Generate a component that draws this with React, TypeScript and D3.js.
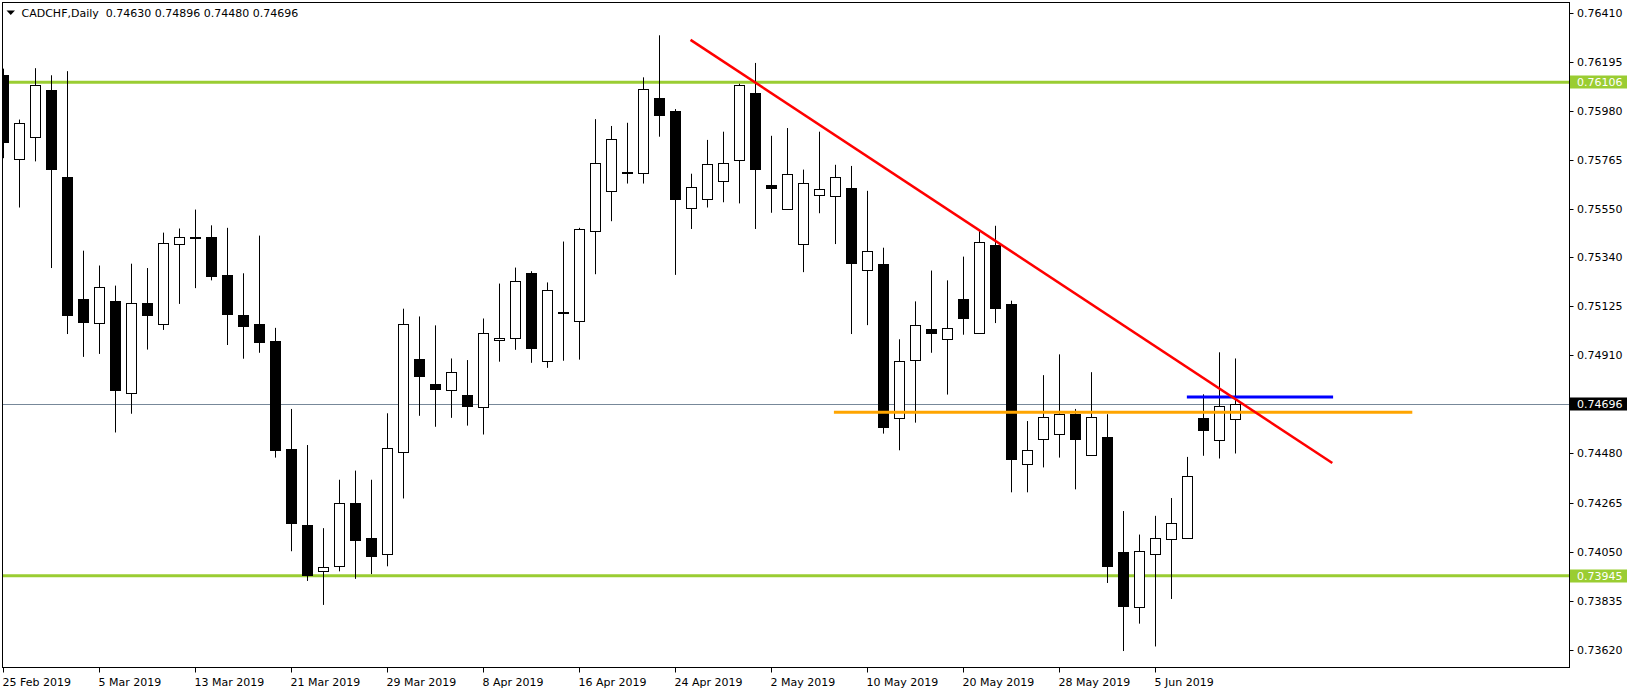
import React from "react";
import * as d3 from "d3";

// ---- data ----
const opens = [
  0.76136, 0.75769, 0.75864, 0.76072, 0.75689, 0.75156, 0.75053, 0.75149, 0.74747, 0.75137,
  0.75048, 0.75397, 0.75429, 0.75429, 0.75262, 0.75087, 0.75048, 0.74971, 0.74501, 0.74168,
  0.73966, 0.73988, 0.74262, 0.74111, 0.74039, 0.74487, 0.74893, 0.74784, 0.74756, 0.74736,
  0.74683, 0.74975, 0.74987, 0.75269, 0.74884, 0.75101, 0.75058, 0.75454, 0.75630, 0.75711,
  0.75707, 0.76038, 0.75980, 0.75554, 0.75596, 0.75671, 0.75767, 0.76058, 0.75657, 0.75550,
  0.75397, 0.75611, 0.75607, 0.75643, 0.75285, 0.75311, 0.74634, 0.74891, 0.75023, 0.74980,
  0.75158, 0.75009, 0.75395, 0.75133, 0.74433, 0.74545, 0.74567, 0.74652, 0.74472, 0.74553,
  0.74048, 0.73806, 0.74038, 0.74107, 0.74111, 0.74634, 0.74538, 0.74630,
];
const highs = [
  0.76165, 0.75942, 0.76167, 0.76136, 0.76154, 0.75368, 0.75303, 0.75215, 0.75311, 0.75292,
  0.75447, 0.75465, 0.75548, 0.75479, 0.75468, 0.75269, 0.75434, 0.75030, 0.74675, 0.74517,
  0.74153, 0.74365, 0.74405, 0.74365, 0.74656, 0.75114, 0.75080, 0.75041, 0.74896, 0.74889,
  0.75071, 0.75224, 0.75294, 0.75278, 0.75229, 0.75408, 0.75468, 0.75944, 0.75914, 0.75928,
  0.76127, 0.76311, 0.75988, 0.75705, 0.75853, 0.75889, 0.76099, 0.76190, 0.75871, 0.75905,
  0.75723, 0.75889, 0.75744, 0.75739, 0.75630, 0.75381, 0.74980, 0.75146, 0.75281, 0.75238,
  0.75342, 0.75456, 0.75477, 0.75149, 0.74622, 0.74823, 0.74914, 0.74675, 0.74836, 0.74652,
  0.74228, 0.74125, 0.74207, 0.74285, 0.74465, 0.74739, 0.74923, 0.74896,
];
const lows = [
  0.75773, 0.75557, 0.75759, 0.75292, 0.75003, 0.74903, 0.74916, 0.74572, 0.74654, 0.74935,
  0.75021, 0.75135, 0.75204, 0.75238, 0.74955, 0.74895, 0.74921, 0.74462, 0.74052, 0.73922,
  0.73817, 0.73964, 0.73931, 0.73952, 0.73986, 0.74283, 0.74645, 0.74597, 0.74636, 0.74602,
  0.74563, 0.74882, 0.74934, 0.74877, 0.74855, 0.74886, 0.74891, 0.75265, 0.75497, 0.75662,
  0.75662, 0.75867, 0.75262, 0.75463, 0.75557, 0.75580, 0.75575, 0.75463, 0.75534, 0.75547,
  0.75274, 0.75532, 0.75397, 0.75003, 0.75042, 0.74567, 0.74494, 0.74615, 0.74921, 0.74738,
  0.75000, 0.75007, 0.75051, 0.74310, 0.74310, 0.74419, 0.74462, 0.74323, 0.74470, 0.73913,
  0.73615, 0.73735, 0.73635, 0.73843, 0.74108, 0.74470, 0.74458, 0.74480,
];
const closes = [
  0.75842, 0.75926, 0.76092, 0.75727, 0.75087, 0.75057, 0.75210, 0.74759, 0.75140, 0.75087,
  0.75402, 0.75427, 0.75425, 0.75256, 0.75090, 0.75039, 0.74969, 0.74497, 0.74175, 0.73950,
  0.73984, 0.74262, 0.74100, 0.74030, 0.74506, 0.75048, 0.74820, 0.74764, 0.74836, 0.74690,
  0.75009, 0.74984, 0.75237, 0.74943, 0.75197, 0.75097, 0.75463, 0.75751, 0.75855, 0.75707,
  0.76076, 0.75960, 0.75593, 0.75646, 0.75746, 0.75751, 0.76092, 0.75725, 0.75641, 0.75703,
  0.75664, 0.75637, 0.75689, 0.75313, 0.75367, 0.74597, 0.74887, 0.75044, 0.75009, 0.75030,
  0.75073, 0.75406, 0.75117, 0.74458, 0.74494, 0.74638, 0.74652, 0.74545, 0.74638, 0.73988,
  0.73813, 0.74054, 0.74109, 0.74175, 0.74381, 0.74581, 0.74686, 0.74696,
];

const dateLabels = [
  "25 Feb 2019", "5 Mar 2019", "13 Mar 2019", "21 Mar 2019", "29 Mar 2019", "8 Apr 2019",
  "16 Apr 2019", "24 Apr 2019", "2 May 2019", "10 May 2019", "20 May 2019", "28 May 2019", "5 Jun 2019",
];
const dateLabelIndex = [0, 6, 12, 18, 24, 30, 36, 42, 48, 54, 60, 66, 72];

const priceTicks = [
  0.7641, 0.76195, 0.7598, 0.75765, 0.7555, 0.7534, 0.75125, 0.7491, 0.7448, 0.74265, 0.7405,
  0.73835, 0.7362,
];

const greenLevels = [0.76106, 0.73945];
const orangeLevel = { from: 51.9, to: 88.05, price: 0.74661 };
const blueLevel = { from: 73.96, to: 83.1, price: 0.74727 };
const redTrend = { i1: 42.94, p1: 0.76291, i2: 83.05, p2: 0.74438 };

const symbol = "CADCHF,Daily";

// ---- layout ----
const W = 1633;
const H = 694;
const left = 2.5;
const top = 2.5;
const right = 1569.5;
const bottom = 667.5;

export default function App() {
  const n = opens.length;
  const x = d3.scaleLinear().domain([0, n - 1]).range([3.5, 3.5 + 16 * (n - 1)]);
  const y = d3.scaleLinear().domain([0.7362, 0.7641]).range([649.9, 12.7]);
  const fmt = d3.format(".5f");
  const last = n - 1;
  const bid = closes[last];
  const font = "'DejaVu Sans', Verdana, sans-serif";
  const bw = 5;

  const title = `${symbol}  ${fmt(opens[last])} ${fmt(highs[last])} ${fmt(lows[last])} ${fmt(closes[last])}`;

  const labelBox = (p: number, fill: string, key: string) => (
    <g key={key}>
      <rect x={1570} y={Math.round(y(p)) - 6.5} width={57} height={13} fill={fill} />
      <text x={1577} y={y(p)} dy="0.36em" fontSize={11} fill="#ffffff" fontFamily={font}>
        {fmt(p)}
      </text>
    </g>
  );

  return (
    <svg
      width={W}
      height={H}
      style={{ position: "absolute", left: 0, top: 0, background: "#fff" }}
      xmlns="http://www.w3.org/2000/svg"
    >
      <defs>
        <clipPath id="plot">
          <rect x={left} y={top} width={right - left} height={bottom - top} />
        </clipPath>
      </defs>
      <rect x={0} y={0} width={W} height={H} fill="#ffffff" />

      <g clipPath="url(#plot)">
        {/* bid line */}
        <line x1={left} x2={right} y1={Math.round(y(bid)) + 0.5} y2={Math.round(y(bid)) + 0.5} stroke="#778899" strokeWidth={1} />
        {/* green levels */}
        {greenLevels.map((p, k) => (
          <line key={"g" + k} x1={left} x2={right} y1={y(p)} y2={y(p)} stroke="#9acd32" strokeWidth={3} />
        ))}

        {/* candles */}
        {opens.map((o, i) => {
          const c = closes[i];
          const cx = x(i);
          const bear = o > c;
          const yt = Math.round(y(Math.max(o, c))) + 0.5;
          let yb = Math.round(y(Math.min(o, c))) + 0.5;
          if (yb - yt < 1) yb = yt + 1;
          return (
            <g key={i}>
              <line x1={cx} x2={cx} y1={y(highs[i])} y2={y(lows[i])} stroke="#000" strokeWidth={1} />
              <rect
                x={cx - bw}
                y={yt}
                width={bw * 2}
                height={yb - yt}
                fill={bear ? "#000" : "#fff"}
                stroke="#000"
                strokeWidth={1}
              />
            </g>
          );
        })}

        {/* orange level */}
        <line x1={x(orangeLevel.from)} x2={x(orangeLevel.to)} y1={y(orangeLevel.price)} y2={y(orangeLevel.price)} stroke="#ffa500" strokeWidth={3} />
        {/* blue level */}
        <line x1={x(blueLevel.from)} x2={x(blueLevel.to)} y1={y(blueLevel.price)} y2={y(blueLevel.price)} stroke="#0000ff" strokeWidth={3} />
        {/* red trend line */}
        <line x1={x(redTrend.i1)} x2={x(redTrend.i2)} y1={y(redTrend.p1)} y2={y(redTrend.p2)} stroke="#ff0000" strokeWidth={2.5} />
      </g>

      {/* frame */}
      <rect x={left} y={top} width={right - left} height={bottom - top} fill="none" stroke="#000" strokeWidth={1} />

      {/* y axis */}
      {priceTicks.map((p, k) => (
        <g key={"t" + k}>
          <line x1={right} x2={right + 4} y1={Math.round(y(p)) + 0.5} y2={Math.round(y(p)) + 0.5} stroke="#000" />
          <text x={1577} y={y(p)} dy="0.36em" fontSize={11} fill="#000" fontFamily={font}>
            {fmt(p)}
          </text>
        </g>
      ))}
      {greenLevels.map((p, k) => labelBox(p, "#9acd32", "gl" + k))}
      {labelBox(bid, "#000000", "bid")}

      {/* x axis */}
      {dateLabelIndex.map((idx, k) => (
        <g key={"d" + k}>
          <line x1={x(idx)} x2={x(idx)} y1={bottom} y2={bottom + 5} stroke="#000" />
          <text x={x(idx) - 1} y={686} fontSize={11} fill="#000" fontFamily={font}>
            {dateLabels[k]}
          </text>
        </g>
      ))}

      {/* title */}
      <path d="M6.5,10.5 L15,10.5 L10.75,15 Z" fill="#000" />
      <text x={21.5} y={16.5} fontSize={11} fill="#000" fontFamily={font} style={{ whiteSpace: "pre" }}>
        {title}
      </text>
    </svg>
  );
}
